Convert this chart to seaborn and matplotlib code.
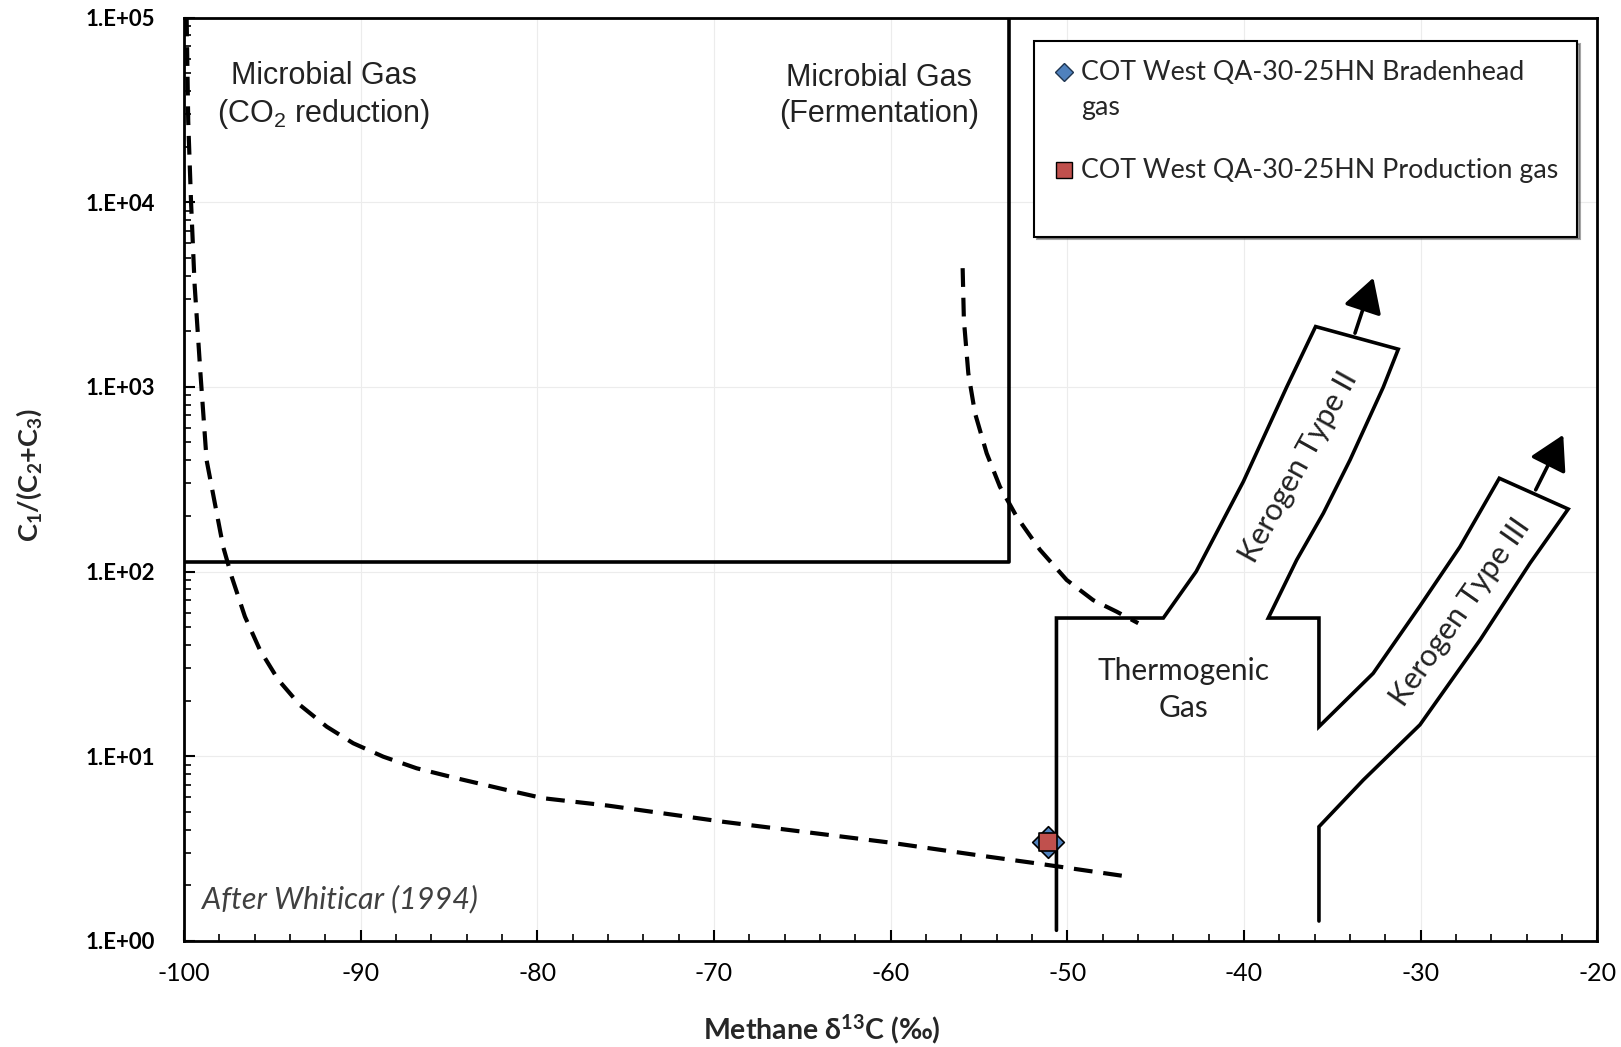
import numpy as np
import pandas as pd
import matplotlib
matplotlib.use("Agg")
import matplotlib.pyplot as plt
import seaborn as sns
from matplotlib.ticker import MultipleLocator, LogLocator, FixedLocator, FixedFormatter, NullFormatter
from matplotlib.lines import Line2D

# ---------------- data ----------------
# CO2-reduction boundary curve (dashed)
co2_x = [-99.85, -99.76, -99.6, -99.4, -99.06, -98.72, -97.78, -97.30, -96.55, -95.70,
         -94.66, -93.43, -91.92, -90.42, -88.72, -86.83, -84.56, -81.73, -79.66, -76.0,
         -69.45, -60.09, -54.75, -51.89, -46.45]
co2_y = [100000, 27400, 10000, 3600, 1153, 401, 136, 93.8, 57.0, 37.6,
         25.9, 18.9, 14.45, 11.75, 9.94, 8.60, 7.59, 6.56, 5.92, 5.4,
         4.41, 3.41, 2.88, 2.64, 2.22]

# Fermentation boundary curve (dashed)
ferm_x = [-55.92, -55.85, -55.60, -55.22, -54.56, -53.81, -52.86, -51.54, -50.03, -48.53, -47.20, -45.98]
ferm_y = [4395, 2306, 1186, 720, 437, 288, 198, 131, 90, 70, 60.6, 52.5]

# Microbial gas field boundary
box_x = [-100, -53.3, -53.3]
box_y = [112, 112, 100000]

# Thermogenic + kerogen type II / III outline (single continuous path)
thermo_x = [-50.61, -50.61, -44.56, -42.7, -40.03, -37.58, -35.94, -31.26, -32.11, -33.99,
            -35.50, -37.01, -38.62, -35.75, -35.75, -32.68, -30.03, -27.77, -25.54, -21.64,
            -23.80, -26.63, -30.03, -33.24, -35.75, -35.75]
thermo_y = [1.14, 56, 56, 100, 307, 996, 2122, 1600, 996, 402,
            207, 115.6, 56, 56, 14.45, 28.1, 65.1, 136, 320, 218,
            111, 42.6, 14.8, 7.43, 4.15, 1.28]

# Maturity arrows (base -> tip)
arrow2_x = [-33.71, -32.67]
arrow2_y = [1954, 3900]
arrow3_x = [-23.48, -21.92]
arrow3_y = [277, 550]

# Samples
series_names = ["COT West QA-30-25HN Bradenhead\ngas", "COT West QA-30-25HN Production gas"]
sample_x = [-51.07, -51.07]
sample_y = [3.44, 3.44]
sample_colors = ["#4F81BD", "#C0504D"]
sample_markers = ["D", "s"]
sample_sizes = [260, 180]

xticks = [-100, -90, -80, -70, -60, -50, -40, -30, -20]
xtick_labels = ["-100", "-90", "-80", "-70", "-60", "-50", "-40", "-30", "-20"]
yticks = [1, 10, 100, 1000, 10000, 100000]
ytick_labels = ["1.E+00", "1.E+01", "1.E+02", "1.E+03", "1.E+04", "1.E+05"]

# ---------------- style ----------------
sns.set_theme(style="white")
plt.rcParams["font.family"] = ["Lato", "DejaVu Sans"]
plt.rcParams["mathtext.default"] = "regular"

fig = plt.figure(figsize=(16.21, 10.47), dpi=100)
ax = fig.add_axes([0.1135, 0.1014, 0.8718, 0.8818])
ax.set_yscale("log")
ax.set_xlim(-100, -20)
ax.set_ylim(1, 100000)

ax.grid(True, which="major", color="#ececec", lw=0.8)
ax.set_axisbelow(True)

lw_outline = 2.6
sns.lineplot(x=box_x, y=box_y, sort=False, estimator=None, color="black", lw=lw_outline, ax=ax)
sns.lineplot(x=thermo_x, y=thermo_y, sort=False, estimator=None, color="black", lw=lw_outline, ax=ax)
ax.lines[-1].set_solid_joinstyle("miter")
sns.lineplot(x=co2_x, y=co2_y, sort=False, estimator=None, color="black", lw=3.0, ax=ax)
ax.lines[-1].set_dashes((4.5, 2.6))
sns.lineplot(x=ferm_x, y=ferm_y, sort=False, estimator=None, color="black", lw=3.0, ax=ax)
ax.lines[-1].set_dashes((4.5, 2.6))

for axx, ayy in [(arrow2_x, arrow2_y), (arrow3_x, arrow3_y)]:
    ax.annotate("", xy=(axx[1], ayy[1]), xytext=(axx[0], ayy[0]),
                arrowprops=dict(arrowstyle="-|>,head_length=1.05,head_width=0.6",
                                lw=2.6, color="black", mutation_scale=20,
                                shrinkA=0, shrinkB=0))

df = pd.DataFrame({"x": sample_x, "y": sample_y, "series": series_names})
for i, name in enumerate(series_names):
    sub = df[df["series"] == name]
    sns.scatterplot(data=sub, x="x", y="y", marker=sample_markers[i], color=sample_colors[i],
                    s=sample_sizes[i], edgecolor="black", linewidth=1.2, ax=ax, zorder=5 + i,
                    legend=False)

# legend (first line of each entry carries the marker, as in the original)
blank = Line2D([], [], linestyle="none")
h_d = Line2D([], [], linestyle="none", marker=sample_markers[0], markersize=9,
             markerfacecolor=sample_colors[0], markeredgecolor="#1f3550", markeredgewidth=1.0)
h_s = Line2D([], [], linestyle="none", marker=sample_markers[1], markersize=12,
             markerfacecolor=sample_colors[1], markeredgecolor="black", markeredgewidth=1.0)
first_lines = series_names[0].split("\n")
leg_handles = [h_d, blank, blank, h_s, blank]
leg_labels = [first_lines[0], first_lines[1], " ", series_names[1], " "]
leg = ax.legend(leg_handles, leg_labels, loc="upper left", bbox_to_anchor=(0.6015, 0.9742),
                frameon=True, fancybox=False, shadow=True, fontsize=19.3, handletextpad=0.25,
                handlelength=0.8, handleheight=0.5, labelspacing=0.35, borderpad=0.7,
                borderaxespad=0)
leg.get_frame().set_edgecolor("black")
leg.get_frame().set_linewidth(1.5)
leg.get_texts()[2].set_fontsize(12)

# annotations
ax.text(-92.09, 37600, "Microbial Gas\n(CO$_2$ reduction)", family=["Liberation Sans", "DejaVu Sans"],
        fontsize=22, ha="center", va="center", linespacing=1.25, color="#222222")
ax.text(-60.67, 37600, "Microbial Gas\n(Fermentation)", family=["Liberation Sans", "DejaVu Sans"],
        fontsize=22, ha="center", va="center", linespacing=1.25, color="#222222")
ax.text(-43.41, 23.0, "Thermogenic\nGas", fontsize=21.5, ha="center", va="center",
        linespacing=1.42, color="#222222")
ax.text(-36.90, 370, "Kerogen Type II", fontsize=22, ha="center", va="center",
        rotation=61, rotation_mode="anchor", color="#222222")
ax.text(-27.78, 60.4, "Kerogen Type III", fontsize=22, ha="center", va="center",
        rotation=55, rotation_mode="anchor", color="#222222")
ax.text(-99.0, 1.675, "After Whiticar (1994)", fontsize=22, style="italic",
        ha="left", va="center", color="#404040")

# ticks
ax.xaxis.set_major_locator(FixedLocator(xticks))
ax.xaxis.set_major_formatter(FixedFormatter(xtick_labels))
ax.xaxis.set_minor_locator(MultipleLocator(2))
ax.yaxis.set_major_locator(FixedLocator(yticks))
ax.yaxis.set_major_formatter(FixedFormatter(ytick_labels))
ax.yaxis.set_minor_locator(LogLocator(base=10, subs=np.arange(2, 10)))
ax.yaxis.set_minor_formatter(NullFormatter())
ax.tick_params(axis="both", which="both", direction="in", top=False, right=False,
               bottom=True, left=True, colors="black")
ax.tick_params(axis="both", which="major", length=8, width=1.5)
ax.tick_params(axis="both", which="minor", length=5, width=1.2)
ax.tick_params(axis="x", which="major", pad=15, labelsize=18)
ax.tick_params(axis="y", which="major", pad=21, labelsize=16)
for lab in ax.get_yticklabels():
    lab.set_fontweight("bold")

for sp in ax.spines.values():
    sp.set_color("black")
    sp.set_linewidth(2.0)
    sp.set_visible(True)

ax.set_xlabel("")
ax.set_ylabel("")
fig.text(0.507, 0.0176, "Methane δ$^{13}$C (‰)", fontsize=20.5, fontweight="bold",
         ha="center", va="center")
fig.text(0.0179, 0.5458, "C$_1$/(C$_2$+C$_3$)", fontsize=19.5, fontweight="bold",
         ha="center", va="center", rotation=90)

fig.savefig("out.png", dpi=100)
